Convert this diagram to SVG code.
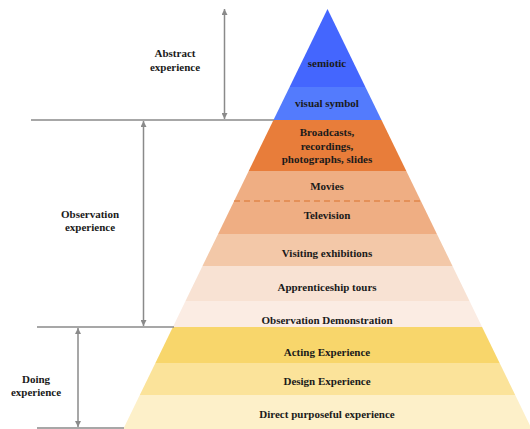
<svg xmlns="http://www.w3.org/2000/svg" width="530" height="429" viewBox="0 0 530 429">
  <defs>
    <marker id="ah" viewBox="0 0 10 10" refX="10" refY="5" markerWidth="6" markerHeight="6" markerUnits="userSpaceOnUse" orient="auto-start-reverse">
      <path d="M0,0 L10,5 L0,10 z" fill="#8a8a8a"/>
    </marker>
    <style>
      text { font-family: 'Liberation Serif', 'Times New Roman', serif; font-weight: 700; font-size: 11px; fill: #1a1a1a; text-anchor: middle; }
      .rule { stroke: #8a8a8a; stroke-width: 1.5; fill: none; }
      .span { stroke: #8a8a8a; stroke-width: 1.5; fill: none; marker-start: url(#ah); marker-end: url(#ah); }
    </style>
  </defs>
  <rect width="530" height="429" fill="#ffffff"/>

  <!-- pyramid layers: apex (327.5,9), half-width grows 0.486 per px -->
  <g id="semiotic">
    <polygon points="327.5,9 365.4,87 289.6,87" fill="#4466fe"/>
    <text x="327" y="67">semiotic</text>
  </g>
  <g id="visual-symbol">
    <polygon points="289.6,87 365.4,87 381.5,120 273.5,120" fill="#537bfd"/>
    <text x="327" y="107">visual symbol</text>
  </g>
  <g id="broadcasts">
    <polygon points="273.5,120 381.5,120 406.3,171 248.7,171" fill="#e87d3a"/>
    <text x="327" y="136">Broadcasts,</text>
    <text x="327" y="150">recordings,</text>
    <text x="327" y="163">photographs, slides</text>
  </g>
  <g id="movies-television">
    <polygon points="248.7,171 406.3,171 436.9,234 218.1,234" fill="#efae83"/>
    <line x1="234" y1="201" x2="421" y2="201" stroke="#d9722f" stroke-width="1.2" stroke-dasharray="6,4"/>
    <text x="327" y="190">Movies</text>
    <text x="327" y="219">Television</text>
  </g>
  <g id="visiting-exhibitions">
    <polygon points="218.1,234 436.9,234 452.5,266 202.5,266" fill="#f3c8a8"/>
    <text x="327" y="257">Visiting exhibitions</text>
  </g>
  <g id="apprenticeship-tours">
    <polygon points="202.5,266 452.5,266 469.5,301 185.5,301" fill="#f8e2d3"/>
    <text x="327" y="291">Apprenticeship tours</text>
  </g>
  <g id="observation-demonstration">
    <polygon points="185.5,301 469.5,301 482.1,327 172.9,327" fill="#fbece3"/>
    <text x="327" y="324">Observation Demonstration</text>
  </g>
  <g id="acting-experience">
    <polygon points="172.9,327 482.1,327 499.6,363 155.4,363" fill="#f8d66b"/>
    <text x="327" y="356">Acting Experience</text>
  </g>
  <g id="design-experience">
    <polygon points="155.4,363 499.6,363 515.2,395 139.8,395" fill="#fbe39a"/>
    <text x="327" y="385">Design Experience</text>
  </g>
  <g id="direct-experience">
    <polygon points="139.8,395 515.2,395 531.7,429 123.3,429" fill="#fdf0c9"/>
    <text x="327" y="418">Direct purposeful experience</text>
  </g>

  <!-- tier labels on the left -->
  <g id="abstract-experience">
    <text x="175" y="57">Abstract</text>
    <text x="175" y="71">experience</text>
  </g>
  <g id="observation-experience">
    <text x="90" y="218">Observation</text>
    <text x="90" y="231">experience</text>
  </g>
  <g id="doing-experience">
    <text x="36" y="383">Doing</text>
    <text x="36" y="396">experience</text>
  </g>

  <!-- boundary rules and span arrows -->
  <g id="connectors">
    <line class="rule" x1="31" y1="120" x2="274" y2="120"/>
    <line class="rule" x1="37" y1="327" x2="174" y2="327"/>
    <line class="rule" x1="37" y1="428" x2="124" y2="428"/>
    <line class="span" x1="224.5" y1="9" x2="224.5" y2="119"/>
    <line class="span" x1="143.5" y1="121" x2="143.5" y2="326"/>
    <line class="span" x1="78" y1="328" x2="78" y2="427"/>
  </g>
</svg>
